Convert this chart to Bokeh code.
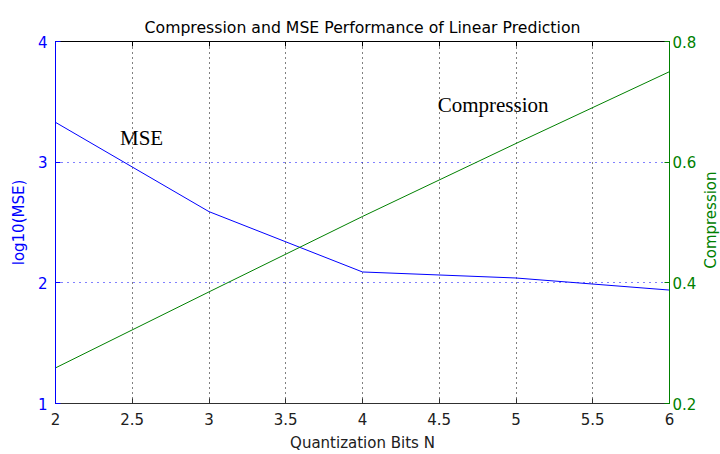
import math
from bokeh.plotting import figure
from bokeh.layouts import row
from bokeh.models import Range1d, LinearAxis, FixedTicker, Label
from bokeh.embed import file_html
from bokeh.resources import INLINE

# Quantization bits vs. log10(MSE) and compression ratio
bits = [2, 3, 4, 5, 6]
log_mse = [3.33, 2.59, 2.09, 2.04, 1.94]
compression = [0.259, 0.385, 0.510, 0.631, 0.750]

x_ticks = [2, 2.5, 3, 3.5, 4, 4.5, 5, 5.5, 6]
x_tick_labels = ["2", "2.5", "3", "3.5", "4", "4.5", "5", "5.5", "6"]
mse_ticks = [1, 2, 3, 4]
comp_ticks = [0.2, 0.4, 0.6, 0.8]
comp_tick_labels = ["0.2", "0.4", "0.6", "0.8"]

BLUE = "#0000ff"
GREEN = "#008000"
DARK = "#303030"
SANS = "DejaVu Sans"

p = figure(width=700, height=454, output_backend="svg", toolbar_location=None,
           x_range=Range1d(2, 6), y_range=Range1d(1, 4),
           min_border_left=55, min_border_right=31,
           min_border_top=41, min_border_bottom=50,
           title="Compression and MSE Performance of Linear Prediction")
p.extra_y_ranges = {"comp": Range1d(0.2, 0.8)}
p.background_fill_color = "white"
p.border_fill_color = "white"
p.outline_line_color = "black"

p.title.align = "center"
p.title.text_font = SANS
p.title.text_font_size = "15.7px"
p.title.text_font_style = "normal"
p.title.text_color = "black"

# grid: black dotted verticals, blue dotted horizontals
p.xgrid.ticker = FixedTicker(ticks=x_ticks[1:-1])
p.xgrid.grid_line_color = "black"
p.xgrid.grid_line_dash = "1 4"
p.ygrid.ticker = FixedTicker(ticks=mse_ticks[1:-1])
p.ygrid.grid_line_color = BLUE
p.ygrid.grid_line_dash = "1 5"

def style_axis(ax, color, label_color):
    ax.axis_line_color = color
    ax.major_tick_line_color = color
    ax.major_tick_in = 5
    ax.major_tick_out = 0
    ax.minor_tick_line_color = None
    ax.major_label_text_font = SANS
    ax.major_label_text_font_size = "15px"
    ax.major_label_text_color = label_color
    ax.axis_label_text_font = SANS
    ax.axis_label_text_font_size = "15px"
    ax.axis_label_text_font_style = "normal"
    ax.axis_label_text_color = label_color

xa = p.xaxis[0]
xa.ticker = FixedTicker(ticks=x_ticks)
xa.major_label_overrides = dict(zip(x_ticks, x_tick_labels))
xa.axis_label = "Quantization Bits N"
style_axis(xa, DARK, "#202020")
xa.major_label_standoff = 9
xa.axis_label_standoff = 6

ya = p.yaxis[0]
ya.ticker = FixedTicker(ticks=mse_ticks)
ya.axis_label = "log10(MSE)"
style_axis(ya, BLUE, BLUE)
ya.major_label_standoff = 8
ya.axis_label_standoff = 7

yr = LinearAxis(y_range_name="comp")
yr.ticker = FixedTicker(ticks=comp_ticks)
yr.major_label_overrides = dict(zip(comp_ticks, comp_tick_labels))
style_axis(yr, GREEN, GREEN)
yr.major_label_standoff = 3
p.add_layout(yr, "right")

# top border with inward x ticks
top = LinearAxis(ticker=FixedTicker(ticks=x_ticks))
style_axis(top, "black", "black")
top.major_label_overrides = {t: "" for t in x_ticks}
top.major_label_standoff = 0
p.add_layout(top, "above")

p.line(bits, log_mse, line_color=BLUE, line_width=1)
p.line(bits, compression, line_color=GREEN, line_width=1, y_range_name="comp")

p.add_layout(Label(x=2.42, y=3.2, text="MSE", text_font="Liberation Serif",
                   text_font_size="21px", text_color="black", text_baseline="alphabetic"))
p.add_layout(Label(x=4.49, y=3.475, text="Compression", text_font="Liberation Serif",
                   text_font_size="21px", text_color="black", text_baseline="alphabetic"))

# narrow strip holding the right-hand axis title, reading bottom to top
q = figure(width=20, height=454, output_backend="svg", toolbar_location=None,
           x_range=Range1d(0, 20), y_range=Range1d(0, 454),
           min_border=0, outline_line_color=None)
q.axis.visible = False
q.grid.visible = False
q.background_fill_color = "white"
q.border_fill_color = "white"
q.add_layout(Label(x=10, y=230, text="Compression", text_font=SANS,
                   text_font_size="15px", text_color=GREEN, angle=math.pi / 2,
                   text_align="center", text_baseline="middle"))

open("out.html", "w").write(file_html(row(p, q, spacing=0), INLINE))
